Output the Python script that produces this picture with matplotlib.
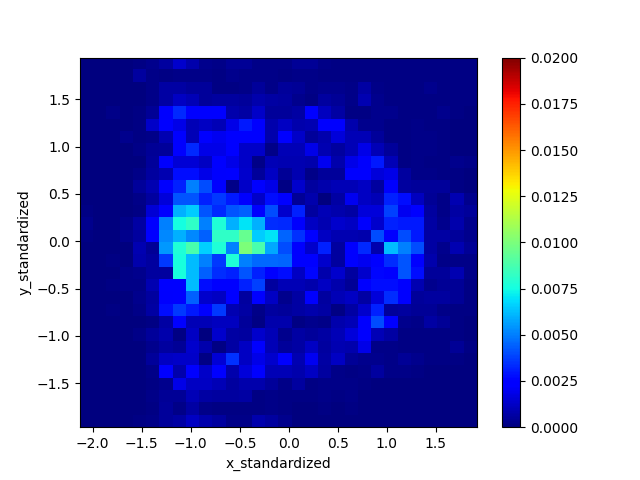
import matplotlib
matplotlib.use("Agg")
import matplotlib.pyplot as plt
import numpy as np

# density per cell in units of 1e-4, rows listed from top to bottom
row_00 = [0, 0, 0, 0, 1, 3, 6, 14, 8, 3, 2, 4, 4, 2, 2, 2, 4, 4, 2, 1, 1, 1, 1, 1, 1, 1, 1, 1, 1, 1]
row_01 = [0, 0, 0, 0, 6, 2, 1, 2, 2, 2, 1, 3, 2, 2, 2, 1, 2, 2, 1, 1, 1, 1, 1, 1, 1, 1, 1, 1, 1, 1]
row_02 = [0, 0, 0, 0, 0, 2, 7, 7, 5, 5, 1, 1, 2, 5, 2, 5, 4, 2, 3, 3, 2, 7, 2, 1, 1, 1, 3, 1, 1, 1]
row_03 = [0, 0, 0, 0, 0, 2, 7, 12, 10, 5, 6, 6, 5, 8, 7, 6, 3, 1, 6, 4, 2, 9, 3, 1, 1, 1, 1, 1, 1, 1]
row_04 = [0, 0, 2, 0, 1, 4, 22, 33, 24, 25, 25, 8, 7, 13, 5, 5, 7, 24, 11, 7, 1, 1, 3, 3, 1, 1, 1, 3, 1, 0]
row_05 = [0, 0, 0, 0, 1, 13, 25, 18, 10, 12, 10, 18, 30, 24, 8, 12, 8, 9, 24, 24, 8, 3, 3, 1, 1, 2, 1, 1, 0, 0]
row_06 = [0, 0, 0, 3, 1, 2, 9, 24, 10, 24, 20, 23, 24, 24, 8, 24, 13, 5, 8, 16, 10, 10, 5, 1, 1, 2, 2, 1, 0, 0]
row_07 = [0, 0, 0, 0, 2, 4, 5, 24, 33, 18, 18, 23, 13, 13, 2, 10, 10, 18, 9, 6, 10, 18, 10, 5, 1, 2, 2, 1, 0, 0]
row_08 = [0, 0, 0, 0, 0, 5, 22, 15, 15, 12, 24, 18, 13, 2, 10, 9, 9, 8, 20, 8, 18, 22, 30, 10, 1, 2, 1, 1, 3, 2]
row_09 = [0, 0, 0, 0, 2, 6, 9, 28, 28, 18, 22, 24, 14, 5, 12, 4, 9, 2, 5, 5, 24, 25, 16, 18, 6, 2, 2, 1, 1, 0]
row_10 = [0, 0, 0, 0, 5, 9, 22, 32, 50, 40, 23, 2, 13, 24, 18, 1, 14, 6, 8, 10, 10, 12, 6, 22, 6, 5, 5, 5, 1, 0]
row_11 = [0, 0, 0, 0, 2, 6, 16, 42, 42, 32, 36, 30, 24, 13, 28, 24, 4, 8, 0, 7, 20, 12, 10, 32, 28, 11, 4, 2, 9, 3]
row_12 = [1, 0, 0, 0, 1, 15, 24, 60, 65, 42, 33, 42, 44, 24, 40, 14, 32, 6, 10, 8, 7, 16, 16, 38, 20, 25, 6, 2, 7, 5]
row_13 = [3, 0, 0, 2, 7, 24, 50, 75, 82, 50, 78, 60, 70, 60, 34, 33, 22, 12, 9, 14, 12, 22, 14, 32, 30, 30, 7, 3, 8, 3]
row_14 = [1, 0, 0, 3, 6, 24, 52, 60, 52, 44, 82, 82, 95, 65, 70, 45, 35, 24, 12, 9, 9, 8, 40, 24, 40, 30, 7, 7, 5, 3]
row_15 = [0, 0, 0, 0, 9, 4, 55, 78, 88, 66, 78, 50, 100, 88, 58, 40, 24, 14, 32, 6, 24, 33, 8, 62, 50, 40, 7, 3, 9, 4]
row_16 = [0, 0, 1, 0, 8, 6, 36, 76, 62, 50, 36, 78, 50, 46, 46, 45, 24, 24, 14, 6, 24, 20, 24, 34, 42, 24, 8, 2, 2, 2]
row_17 = [0, 0, 0, 2, 3, 6, 6, 76, 62, 44, 34, 32, 42, 32, 22, 28, 12, 26, 8, 14, 6, 14, 26, 24, 42, 28, 5, 5, 9, 2]
row_18 = [0, 0, 1, 2, 2, 9, 24, 24, 62, 28, 24, 24, 32, 38, 6, 10, 10, 8, 12, 8, 4, 24, 28, 28, 25, 9, 3, 4, 4, 1]
row_19 = [0, 0, 0, 0, 3, 6, 22, 24, 44, 14, 12, 23, 6, 24, 12, 3, 7, 22, 6, 10, 12, 7, 16, 34, 25, 5, 6, 6, 4, 1]
row_20 = [0, 0, 1, 0, 2, 7, 28, 36, 30, 24, 36, 9, 7, 2, 6, 5, 7, 8, 7, 1, 7, 14, 32, 5, 6, 4, 4, 2, 1, 1]
row_21 = [0, 0, 0, 0, 0, 1, 7, 25, 10, 10, 11, 11, 5, 1, 8, 8, 1, 3, 2, 8, 10, 25, 40, 25, 3, 2, 7, 4, 1, 0]
row_22 = [0, 0, 0, 0, 2, 5, 8, 1, 12, 0, 14, 7, 6, 14, 10, 3, 7, 5, 7, 10, 16, 24, 10, 7, 1, 1, 1, 1, 1, 0]
row_23 = [0, 0, 0, 0, 0, 3, 6, 4, 14, 8, 1, 7, 12, 25, 10, 5, 7, 12, 6, 9, 8, 18, 2, 2, 1, 1, 1, 1, 4, 1]
row_24 = [0, 0, 0, 0, 0, 5, 12, 13, 13, 1, 15, 35, 12, 18, 14, 22, 9, 20, 7, 12, 4, 3, 3, 2, 4, 3, 1, 1, 1, 0]
row_25 = [0, 0, 0, 0, 0, 2, 25, 8, 24, 13, 25, 8, 16, 25, 10, 10, 8, 12, 6, 2, 1, 2, 6, 2, 2, 1, 0, 0, 0, 0]
row_26 = [0, 0, 0, 0, 0, 1, 3, 18, 12, 12, 10, 6, 8, 8, 5, 2, 6, 1, 2, 2, 2, 1, 0, 0, 0, 0, 0, 0, 0, 0]
row_27 = [0, 0, 0, 0, 0, 2, 4, 4, 10, 7, 6, 6, 7, 1, 2, 1, 1, 1, 2, 1, 2, 0, 0, 0, 0, 0, 0, 0, 0, 0]
row_28 = [0, 0, 0, 0, 0, 1, 5, 2, 7, 2, 1, 1, 1, 1, 2, 1, 0, 0, 1, 0, 1, 0, 0, 0, 0, 0, 0, 0, 0, 0]
row_29 = [0, 0, 0, 0, 1, 2, 5, 7, 12, 8, 6, 2, 2, 8, 6, 3, 0, 0, 0, 0, 0, 0, 0, 0, 0, 0, 0, 0, 0, 0]

rows = [row_00, row_01, row_02, row_03, row_04, row_05, row_06, row_07,
        row_08, row_09, row_10, row_11, row_12, row_13, row_14, row_15,
        row_16, row_17, row_18, row_19, row_20, row_21, row_22, row_23,
        row_24, row_25, row_26, row_27, row_28, row_29]

density = np.array(rows) * 1e-4

fig, ax = plt.subplots()

im = ax.imshow(density,
               cmap = "jet",
               vmin = 0,
               vmax = 0.02,
               aspect = "auto",
               interpolation = "nearest",
               extent = [-2.13, 1.917, -1.964, 1.94])

ax.set(xlabel = "x_standardized",
       ylabel = "y_standardized")

fig.colorbar(im, ax = ax)

fig.savefig("out.png", dpi = 100)
